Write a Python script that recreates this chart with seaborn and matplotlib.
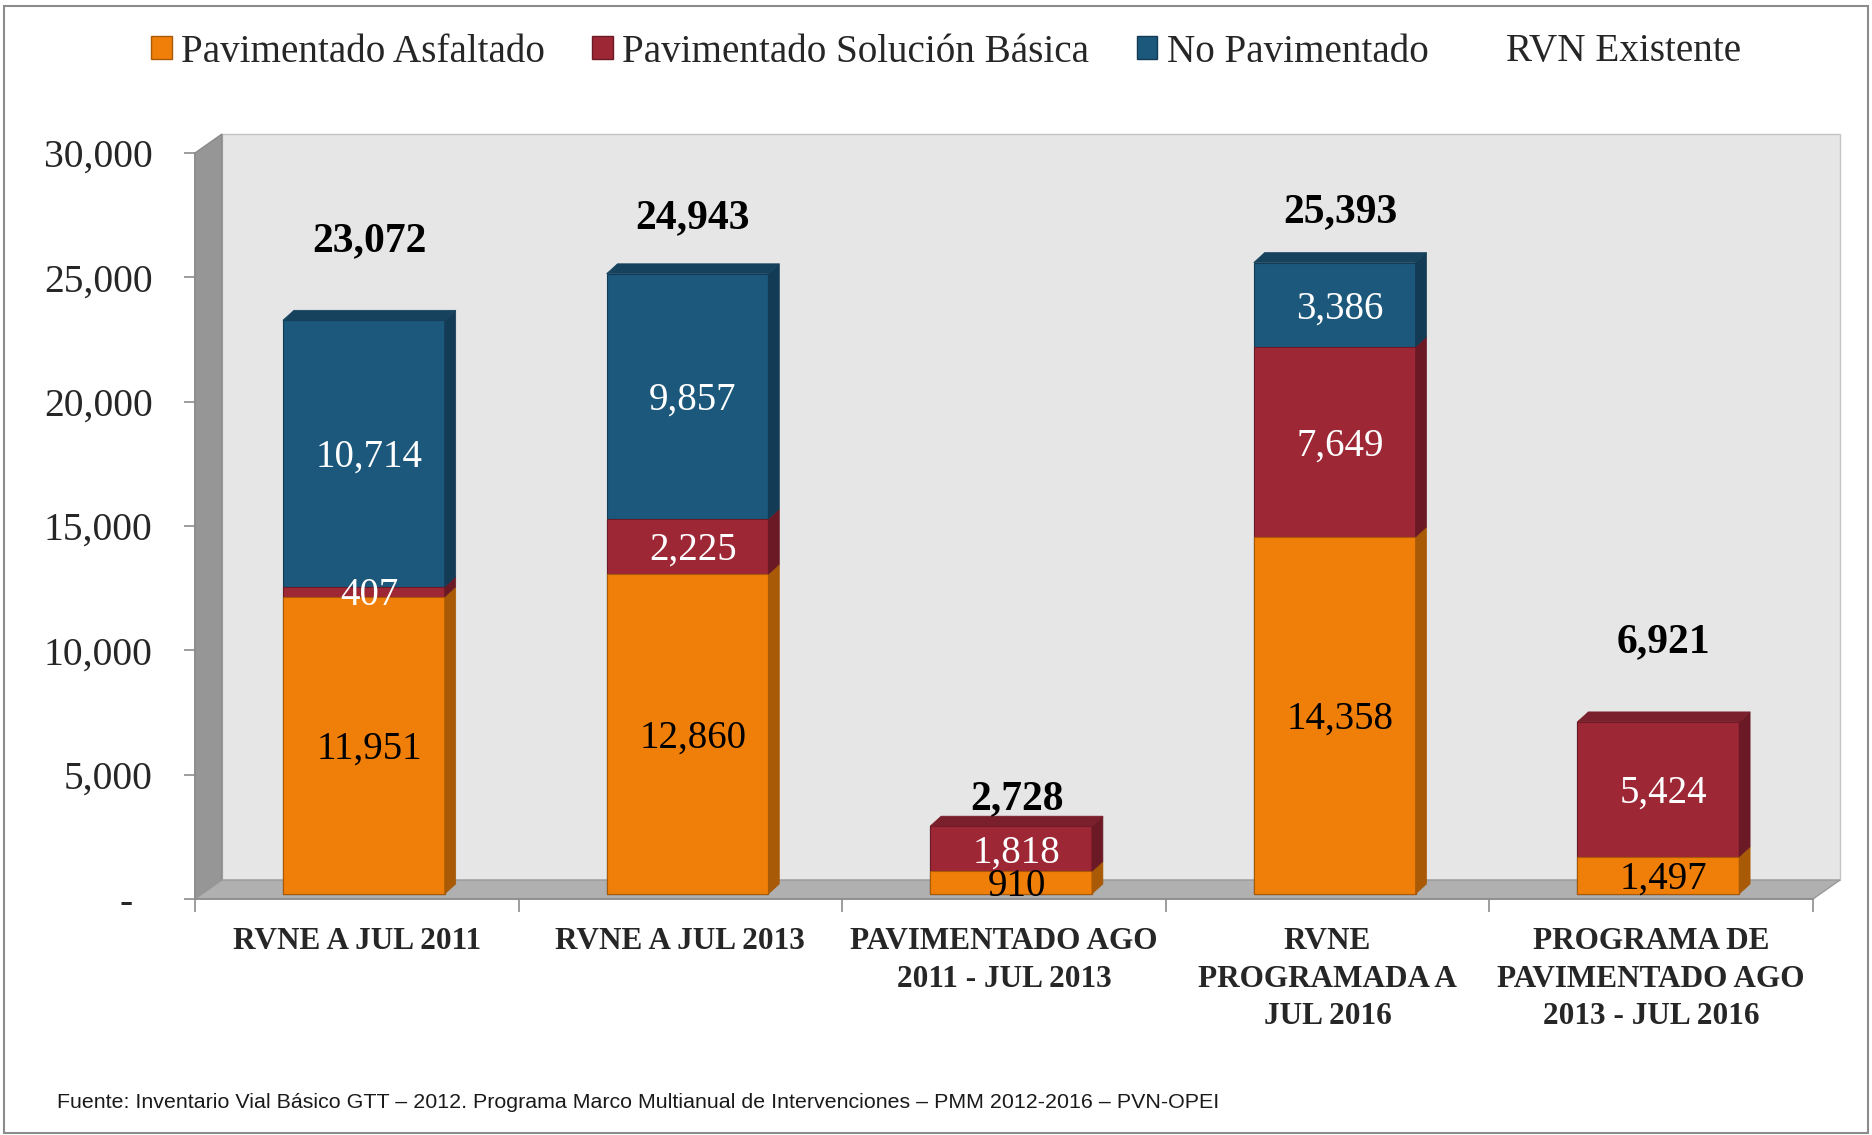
import matplotlib
matplotlib.use('Agg')
import pandas as pd
import seaborn as sns
import matplotlib.pyplot as plt
from matplotlib.patches import Polygon, Patch, Rectangle
from matplotlib.transforms import ScaledTranslation

# Datos (km)
categorias = ['RVNE A JUL 2011', 'RVNE A JUL 2013', 'PAVIMENTADO AGO\n2011 - JUL 2013',
              'RVNE\nPROGRAMADA A\nJUL 2016', 'PROGRAMA DE\nPAVIMENTADO AGO\n2013 - JUL 2016']
asfaltado = [11951, 12860, 910, 14358, 1497]
solucion_basica = [407, 2225, 1818, 7649, 5424]
no_pavimentado = [10714, 9857, 0, 3386, 0]
rvn_existente = [23072, 24943, 2728, 25393, 6921]
series = ['Pavimentado Asfaltado', 'Pavimentado Solución Básica', 'No Pavimentado', 'RVN Existente']
y_ticks = [0, 5000, 10000, 15000, 20000, 25000, 30000]

# separacion de la etiqueta del total sobre la barra (km)
gap_total = [3330, 2385, 1235, 2175, 3355]

fuente = ('Fuente: Inventario Vial Básico GTT – 2012. Programa Marco Multianual de '
          'Intervenciones – PMM 2012-2016 – PVN-OPEI')

# colores: frente, lado, tapa
naranja = ('#F07F09', '#A85A06', '#B86306')
rojo = ('#9E2736', '#6B1A25', '#7A1F2C')
azul = ('#1B587C', '#133B55', '#16425E')

sns.set_theme(style='white')
plt.rcParams['font.family'] = ['Liberation Serif', 'DejaVu Serif']

W, H = 1872, 1135
fig = plt.figure(figsize=(W / 100, H / 100), dpi=100)
ax = fig.add_axes([195 / W, (H - 899) / H, 1618 / W, 746 / H])
ax.set_xlim(-0.5, 4.5)
ax.set_ylim(0, 30000)
ax.patch.set_visible(False)

px_x = 1618 / 5
px_y = 746 / 30000
wall_dx, wall_dy = 27 / px_x, 19 / px_y
bar_dx, bar_dy = 11 / px_x, 10 / px_y
bar_trans = ax.transData + ScaledTranslation(7 / 100, 5 / 100, fig.dpi_scale_trans)
lab_trans = ax.transData + ScaledTranslation(12.5 / 100, 1 / 100, fig.dpi_scale_trans)

df = pd.DataFrame({'categoria': categorias,
                   'asf': asfaltado,
                   'sol': solucion_basica,
                   'nop': no_pavimentado})
df['nivel1'] = df['asf']
df['nivel2'] = df['asf'] + df['sol']
df['nivel3'] = df['nivel2'] + df['nop']

# barras apiladas (se dibuja el acumulado de arriba hacia abajo)
for col, col_colors in [('nivel3', azul), ('nivel2', rojo), ('nivel1', naranja)]:
    sns.barplot(data=df, x='categoria', y=col, color=col_colors[0], width=0.5,
                saturation=1, errorbar=None, ax=ax, edgecolor=col_colors[1],
                linewidth=0.8, zorder=2)
for p in ax.patches:
    p.set_transform(bar_trans)
    p.set_clip_on(False)

# paredes 3D
ax.add_patch(Rectangle((-0.5 + wall_dx, wall_dy), 5, 30000, fc='#E6E6E6', ec='#C4C4C4',
                       lw=1, zorder=0.5, clip_on=False))
ax.add_patch(Polygon([(-0.5, 0), (-0.5 + wall_dx, wall_dy), (-0.5 + wall_dx, 30000 + wall_dy),
                      (-0.5, 30000)], closed=True, fc='#969696', ec='#8A8A8A', lw=1,
                     zorder=0.6, clip_on=False))
ax.add_patch(Polygon([(-0.5, 0), (4.5, 0), (4.5 + wall_dx, wall_dy), (-0.5 + wall_dx, wall_dy)],
                     closed=True, fc='#B0B0B0', ec='#999999', lw=1, zorder=0.7, clip_on=False))

# caras laterales y tapas
for i in range(len(categorias)):
    x0, x1 = i - 0.25, i + 0.25
    tramos = [(0, df['nivel1'][i], naranja), (df['nivel1'][i], df['nivel2'][i], rojo),
              (df['nivel2'][i], df['nivel3'][i], azul)]
    tramos = [t for t in tramos if t[1] > t[0]]
    for b, t, c in tramos:
        ax.add_patch(Polygon([(x1, b), (x1 + bar_dx, b + bar_dy), (x1 + bar_dx, t + bar_dy), (x1, t)],
                             closed=True, fc=c[1], ec=c[1], lw=0.5, transform=bar_trans,
                             zorder=2, clip_on=False))
        txt_color = 'black' if c is naranja else 'white'
        ax.text(i, (b + t) / 2, f'{int(t - b):,}', transform=lab_trans, ha='center',
                va='center', fontsize=28, color=txt_color, zorder=4)
    b, t, c = tramos[-1]
    ax.add_patch(Polygon([(x0, t), (x0 + bar_dx, t + bar_dy), (x1 + bar_dx, t + bar_dy), (x1, t)],
                         closed=True, fc=c[2], ec=c[2], lw=0.5, transform=bar_trans,
                         zorder=2, clip_on=False))
    ax.text(i, rvn_existente[i] + gap_total[i], f'{rvn_existente[i]:,}', transform=lab_trans,
            ha='center', va='center', fontsize=30, fontweight='bold', color='black', zorder=4)

# ejes
for s in ['top', 'right']:
    ax.spines[s].set_visible(False)
for s in ['left', 'bottom']:
    ax.spines[s].set_color('#8C8C8C')
    ax.spines[s].set_linewidth(1.2)
    ax.spines[s].set_zorder(1)

ax.set_yticks(y_ticks)
ax.set_yticklabels(['-  ' if v == 0 else f'{v:,}' for v in y_ticks], fontsize=28.5)
ax.tick_params(axis='y', length=8, width=1.2, color='#8C8C8C', pad=22.5, left=True)

ax.set_xticks(range(len(categorias)))
ax.set_xticklabels(categorias, fontsize=22.5, fontweight='bold', linespacing=1.38)
ax.set_xticks([i - 0.5 for i in range(len(categorias) + 1)], minor=True)
ax.tick_params(axis='x', which='major', length=0, pad=20.5)
ax.tick_params(axis='x', which='minor', length=9, width=1.2, color='#8C8C8C', bottom=True)
ax.set_xlabel('')
ax.set_ylabel('')

# leyenda
handles = [Patch(fc=naranja[0], ec=naranja[1]), Patch(fc=rojo[0], ec=rojo[1]),
           Patch(fc=azul[0], ec=azul[1]), Patch(fc='none', ec='none')]
fig.legend(handles, series, loc='center', bbox_to_anchor=(946 / W, 1 - 52 / H), ncol=4,
           frameon=False, fontsize=28.2, handlelength=0.52, handleheight=0.52,
           handletextpad=0.25, columnspacing=1.2, borderaxespad=0)

fig.text(57 / W, 1 - 1102 / H, fuente, family='Liberation Sans', fontsize=15.4,
         va='center', ha='left', color='#1A1A1A')

fig.add_artist(Rectangle((4 / W, 2 / H), 1864 / W, 1127 / H, transform=fig.transFigure,
                         fill=False, ec='#8C8C8C', lw=1.5))

fig.savefig('out.png', dpi=100)
